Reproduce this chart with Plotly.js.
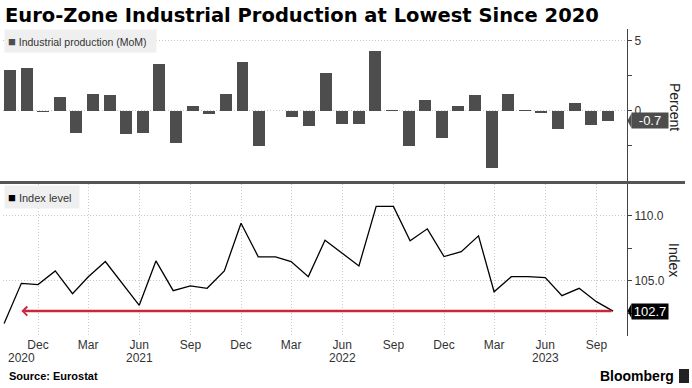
<!DOCTYPE html>
<html>
<head>
<meta charset="utf-8">
<script src="https://cdn.plot.ly/plotly-3.0.1.min.js"></script>
<style>html,body{margin:0;padding:0;background:#fff;}#chart{width:692px;height:388px;}</style>
</head>
<body>
<div id="chart"></div>
<script>
// ---- data ----
const months = ['2020-10-01','2020-11-01','2020-12-01','2021-01-01','2021-02-01','2021-03-01','2021-04-01','2021-05-01','2021-06-01','2021-07-01','2021-08-01','2021-09-01','2021-10-01','2021-11-01','2021-12-01','2022-01-01','2022-02-01','2022-03-01','2022-04-01','2022-05-01','2022-06-01','2022-07-01','2022-08-01','2022-09-01','2022-10-01','2022-11-01','2022-12-01','2023-01-01','2023-02-01','2023-03-01','2023-04-01','2023-05-01','2023-06-01','2023-07-01','2023-08-01','2023-09-01','2023-10-01'];
const ipMoM = [2.95,3.07,-0.1,1.0,-1.6,1.24,1.14,-1.62,-1.55,3.33,-2.26,0.36,-0.21,1.19,3.52,-2.48,0.02,-0.4,-1.05,2.71,-0.95,-0.95,4.29,0.05,-2.48,0.79,-1.95,0.36,1.12,-4.1,1.19,0.07,-0.12,-1.31,0.6,-1.0,-0.7];
const indexLevel = [101.76,104.82,104.72,105.77,104.03,105.3,106.48,104.82,103.14,106.53,104.26,104.62,104.44,105.77,109.41,106.84,106.84,106.48,105.33,108.11,107.1,106.15,110.69,110.69,108.06,108.98,106.86,107.24,108.44,104.18,105.33,105.33,105.26,103.88,104.44,103.42,102.7];
const quarterTicks = ['2020-12-01','2021-03-01','2021-06-01','2021-09-01','2021-12-01','2022-03-01','2022-06-01','2022-09-01','2022-12-01','2023-03-01','2023-06-01','2023-09-01'];
const quarterLabels = ['Dec','Mar','Jun','Sep','Dec','Mar','Jun','Sep','Dec','Mar','Jun','Sep'];
const yearLabels = ['2020','2021','2022','2023'];
const yearPos = ['2020-11-01','2021-06-01','2022-06-01','2023-06-01'];

// ---- geometry helpers (page px -> paper) ----
const L = 3, R = 627, T = 29, B = 336;
const pw = R - L, ph = B - T;
const px = x => (x - L) / pw;
const py = y => (B - y) / ph;

const lastIP = ipMoM[ipMoM.length - 1];
const lastIdx = indexLevel[indexLevel.length - 1];
const dateRange = ['2020-09-29', '2023-10-26'];
const gridC = '#c8c8c8';
const gridDash = '1px,2px';
const FONT = 'Liberation Sans, Arial, sans-serif';

const traces = [
  {type:'bar', x: months, y: ipMoM, xaxis:'x', yaxis:'y', width:0.72,
   marker:{color:'#4d4d4d', line:{width:0}}, hoverinfo:'skip'},
  {type:'scatter', mode:'lines', x: months, y: indexLevel, xaxis:'x3', yaxis:'y3',
   line:{color:'#000', width:1.3}, hoverinfo:'skip'}
];

const annotations = [
  {xref:'paper', yref:'paper', x:px(4), y:py(29), xanchor:'left', yanchor:'top', showarrow:false,
   text:'<span style="color:#4d4d4d;font-size:13px">■</span> Industrial production (MoM)', align:'left',
   bgcolor:'#efefef', borderpad:3, width:145, height:16, font:{family:FONT, size:10.5, color:'#333'}},
  {xref:'paper', yref:'paper', x:px(4), y:py(185), xanchor:'left', yanchor:'top', showarrow:false,
   text:'<span style="color:#000;font-size:13px">■</span> Index level', align:'left',
   bgcolor:'#efefef', borderpad:3, width:68, height:16, font:{family:FONT, size:11, color:'#333'}},
  {xref:'paper', yref:'paper', x:px(675), y:py(107), xanchor:'center', yanchor:'middle', showarrow:false,
   text:'Percent', textangle:90, font:{family:FONT, size:14, color:'#222'}},
  {xref:'paper', yref:'paper', x:px(674), y:py(260), xanchor:'center', yanchor:'middle', showarrow:false,
   text:'Index', textangle:90, font:{family:FONT, size:14, color:'#222'}},
  {xref:'paper', yref:'y', x:px(631), y:lastIP, xanchor:'left', yanchor:'middle', showarrow:false,
   text:lastIP.toFixed(1), bgcolor:'#4d4d4d', borderpad:1, width:34, height:13, align:'center',
   font:{family:FONT, size:13, color:'#fff'}},
  {xref:'paper', yref:'y3', x:px(631), y:lastIdx, xanchor:'left', yanchor:'middle', showarrow:false,
   text:lastIdx.toFixed(1), bgcolor:'#000', borderpad:1, width:34, height:13, align:'center',
   font:{family:FONT, size:13, color:'#fff'}},
  {xref:'x3', yref:'y3', x:months[1], y:lastIdx, axref:'x3', ayref:'y3', ax:months[months.length-1], ay:lastIdx,
   text:'', showarrow:true, arrowhead:4, arrowsize:0.7, arrowwidth:2.5, arrowcolor:'#c8283c', standoff:0},
  {xref:'paper', yref:'paper', x:px(7), y:py(376), xanchor:'left', yanchor:'middle', showarrow:false,
   text:'<b>Source: Eurostat</b>', font:{family:FONT, size:11, color:'#000'}},
  {xref:'paper', yref:'paper', x:px(676), y:py(376), xanchor:'right', yanchor:'middle', showarrow:false,
   text:'<b>Bloomberg</b>', font:{family:FONT, size:14, color:'#000'}}
];
yearLabels.forEach((t, i) => annotations.push({
  xref:'x3', yref:'paper', x:yearPos[i], y:py(358), yanchor:'middle', showarrow:false, text:t,
  font:{family:FONT, size:12, color:'#333'}
}));

const dy1 = 7.5 / 14.06, dy3 = 7.5 / 13.07;
const shapes = [
  {type:'line', xref:'paper', yref:'paper', x0:px(0), x1:px(685), y0:py(182.5), y1:py(182.5),
   line:{color:'#555', width:3}},
  {type:'path', xref:'paper', yref:'y', fillcolor:'#4d4d4d', line:{width:0},
   path:`M${px(627.5)},${lastIP} L${px(631.5)},${lastIP+dy1} L${px(631.5)},${lastIP-dy1} Z`},
  {type:'path', xref:'paper', yref:'y3', fillcolor:'#000', line:{width:0},
   path:`M${px(627.5)},${lastIdx} L${px(631.5)},${lastIdx+dy3} L${px(631.5)},${lastIdx-dy3} Z`},
  {type:'rect', xref:'paper', yref:'paper', x0:px(679), x1:px(689), y0:py(383), y1:py(369),
   fillcolor:'#222', line:{width:0}}
];

const axCommonY = {side:'right', showgrid:true, gridcolor:gridC, griddash:gridDash, zeroline:false,
  showline:true, linecolor:'#444', linewidth:1, ticks:'outside', ticklen:4, tickcolor:'#444',
  tickfont:{family:FONT, size:12, color:'#333'}, fixedrange:true};

const layout = {
  width:692, height:388, margin:{l:L, r:692-R, t:T, b:388-B, pad:0},
  paper_bgcolor:'#fff', plot_bgcolor:'rgba(0,0,0,0)', showlegend:false, bargap:0,
  font:{family:FONT, size:12, color:'#333'},
  title:{text:'<b>Euro-Zone Industrial Production at Lowest Since 2020</b>', xref:'container', yref:'container',
    x:5/692, xanchor:'left', y:1-15/388, yanchor:'middle',
    font:{family:'DejaVu Sans, sans-serif', size:19.5, color:'#000'}},
  xaxis:{type:'category', anchor:'y', domain:[0,1], range:[-0.42, 37.15], showgrid:false,
    showticklabels:false, ticks:'', zeroline:false, showline:false, fixedrange:true},
  xaxis2:{type:'date', overlaying:'x', anchor:'y', range:dateRange, tickvals:quarterTicks,
    showticklabels:false, ticks:'', showgrid:true, gridcolor:gridC, griddash:gridDash, zeroline:false,
    showline:false, fixedrange:true},
  yaxis:Object.assign({}, axCommonY, {anchor:'x', domain:[py(181), 1], range:[-5, 5.85],
    tickvals:[0,5], ticktext:['0','5'],
    minor:{tickvals:[-2.5,2.5], ticks:'outside', ticklen:4, tickcolor:'#444', showgrid:false}}),
  xaxis3:{type:'date', anchor:'y3', range:dateRange, tickvals:quarterTicks, ticktext:quarterLabels,
    showgrid:true, gridcolor:gridC, griddash:gridDash, ticks:'', zeroline:false, showline:false,
    tickfont:{family:FONT, size:12, color:'#333'}, fixedrange:true},
  yaxis3:Object.assign({}, axCommonY, {anchor:'x3', domain:[0, py(184)], range:[100.8, 112.4],
    tickvals:[105,110], ticktext:['105.0','110.0'],
    minor:{tickvals:[102.5,107.5], ticks:'outside', ticklen:4, tickcolor:'#444', showgrid:false}}),
  annotations: annotations,
  shapes: shapes
};

Plotly.newPlot('chart', traces, layout, {staticPlot:true, displayModeBar:false});
</script>
</body>
</html>
